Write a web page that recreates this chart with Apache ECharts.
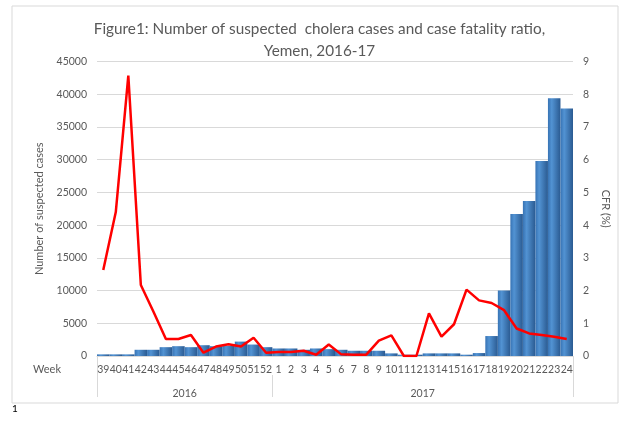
<!DOCTYPE html>
<html>
<head>
<meta charset="utf-8">
<script src="https://cdn.jsdelivr.net/npm/echarts@6/dist/echarts.min.js"></script>
<style>
  html, body { margin: 0; padding: 0; background: #fff; }
  #main { width: 639px; height: 426px; }
</style>
</head>
<body>
<div id="main"></div>
<script>
// weeks: 2016 wk 39-52, 2017 wk 1-24
var weeks = ['39','40','41','42','43','44','45','46','47','48','49','50','51','52',
  '1','2','3','4','5','6','7','8','9','10','11','12','13','14','15','16','17','18','19','20','21','22','23','24'];
var yearLabels = ['2016', '2017'];
var yearSizes = [14, 24];

// suspected cases per week
var cases = [250, 250, 250, 950, 950, 1350, 1500, 1350, 1650, 1500, 1550, 2200, 1750, 1350,
  1150, 1150, 950, 1150, 1050, 950, 800, 800, 800, 400, 200, 200, 400, 400, 400, 200, 450,
  3050, 10000, 21700, 23700, 29800, 39400, 37800];

// case fatality ratio (%)
var cfr = [2.63, 4.4, 8.57, 2.17, 1.36, 0.52, 0.52, 0.64, 0.1, 0.29, 0.36, 0.29, 0.56, 0.1,
  0.12, 0.12, 0.16, 0.04, 0.35, 0.05, 0.04, 0.04, 0.47, 0.63, 0, 0, 1.3, 0.59, 0.97, 2.03,
  1.7, 1.62, 1.4, 0.84, 0.69, 0.64, 0.59, 0.52];

// boundary axis for year groups: 39 points, label at each group centre
var yearAxisData = [];
var bounds = [0];
var centres = {};
var pos = 0;
for (var i = 0; i < yearSizes.length; i++) {
  centres[pos + yearSizes[i] / 2] = yearLabels[i];
  pos += yearSizes[i];
  bounds.push(pos);
}
for (var k = 0; k <= weeks.length; k++) {
  yearAxisData.push(centres[k] || '');
}

var grey = '#595959';
var lineGrey = '#d9d9d9';
var font = 'Lato';

var myChart = echarts.init(document.getElementById('main'));
var option = {
  backgroundColor: '#fff',
  textStyle: { fontFamily: font },
  title: {
    text: 'Figure1: Number of suspected  cholera cases and case fatality ratio,\nYemen, 2016-17',
    left: 'center',
    top: 13,
    textStyle: { fontFamily: font, fontSize: 15.3, fontWeight: 'normal', color: grey, lineHeight: 22 }
  },
  graphic: [
    { type: 'rect', shape: { x: 12, y: 6, width: 606, height: 397 }, style: { fill: 'none', stroke: lineGrey, lineWidth: 1 }, silent: true },
    { type: 'text', left: 12, top: 404, style: { text: '1', fontSize: 10, fill: '#000', fontFamily: font } }
  ],
  grid: { left: 97, right: 66, top: 61.5, bottom: 70 },
  xAxis: [{
    type: 'category',
    data: weeks,
    name: 'Week',
    nameLocation: 'start',
    nameGap: 36,
    nameTextStyle: { color: grey, fontSize: 11, verticalAlign: 'top', lineHeight: 26 },
    axisLine: { lineStyle: { color: lineGrey } },
    axisTick: { show: false },
    axisLabel: { interval: 0, color: grey, fontSize: 10.5, margin: 8 }
  }, {
    type: 'category',
    position: 'bottom',
    boundaryGap: false,
    data: yearAxisData,
    axisLine: { show: false },
    axisTick: {
      show: true, length: 41, lineStyle: { color: lineGrey },
      interval: function (idx) { return idx === 0 || idx === weeks.length; }
    },
    axisLabel: { interval: 0, color: grey, fontSize: 10.5, margin: 32 }
  }, {
    type: 'category',
    position: 'bottom',
    offset: 19,
    boundaryGap: false,
    data: yearAxisData,
    axisLine: { show: false },
    axisTick: {
      show: true, length: 22, lineStyle: { color: lineGrey },
      interval: function (idx) { return bounds.indexOf(idx) > 0 && idx < weeks.length; }
    },
    axisLabel: { show: false }
  }],
  yAxis: [{
    type: 'value',
    min: 0, max: 45000, interval: 5000,
    name: 'Number of suspected cases',
    nameLocation: 'middle',
    nameGap: 52,
    nameTextStyle: { color: grey, fontSize: 11 },
    axisLabel: { color: grey, fontSize: 10.5, margin: 10, formatter: function (v) { return String(v); } },
    splitLine: { lineStyle: { color: lineGrey } }
  }, {
    type: 'value',
    min: 0, max: 9, interval: 1,
    position: 'right',
    name: 'CFR (%)',
    nameLocation: 'middle',
    nameRotate: -90,
    nameGap: 22,
    nameTextStyle: { color: grey, fontSize: 11 },
    axisLabel: { color: grey, fontSize: 10.5, margin: 10 },
    splitLine: { show: false }
  }],
  series: [{
    name: 'Suspected cases',
    type: 'bar',
    data: cases,
    barCategoryGap: '0%',
    itemStyle: {
      color: new echarts.graphic.LinearGradient(0, 0, 1, 0, [
        { offset: 0, color: '#3773b4' },
        { offset: 0.3, color: '#5293d3' },
        { offset: 1, color: '#2a5a91' }
      ])
    }
  }, {
    name: 'CFR',
    type: 'line',
    yAxisIndex: 1,
    data: cfr,
    symbol: 'none',
    lineStyle: { color: '#ff0000', width: 2.5 },
    z: 5
  }],
  animation: false
};

myChart.setOption(option);
window.addEventListener('resize', function () {
  myChart.resize();
});
</script>
</body>
</html>
